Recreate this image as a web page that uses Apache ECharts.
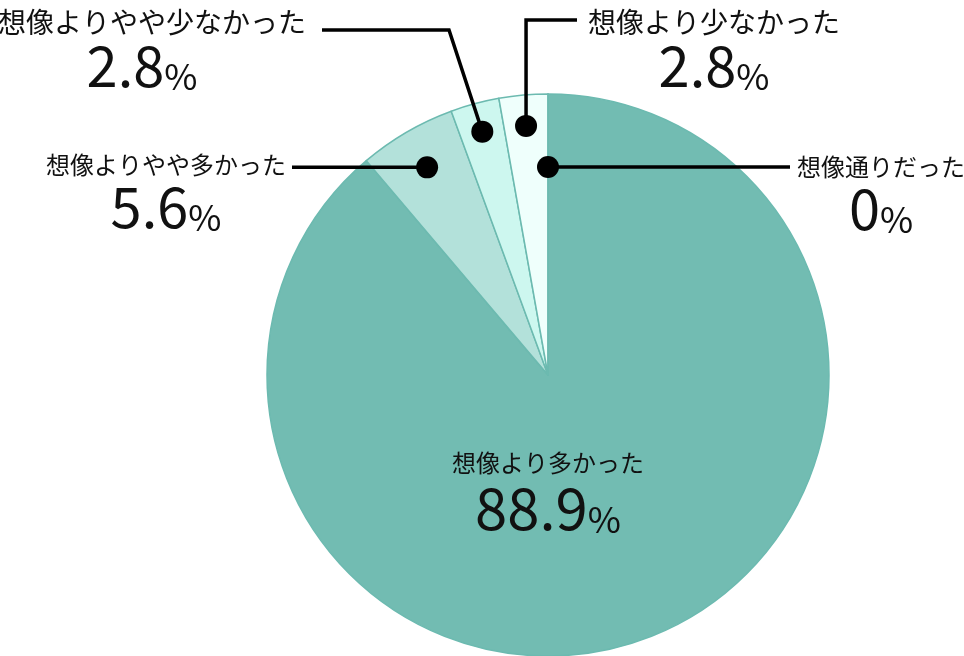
<!DOCTYPE html>
<html>
<head>
<meta charset="utf-8">
<script src="https://cdn.jsdelivr.net/npm/echarts@6/dist/echarts.min.js"></script>
<style>
html,body{margin:0;padding:0;background:#fff;}
#c{width:964px;height:656px;}
</style>
</head>
<body>
<div id="c"></div>
<script>
// ---- data ----
const categories = ['想像より多かった', '想像よりやや多かった', '想像よりやや少なかった', '想像より少なかった', '想像通りだった'];
const values = [88.9, 5.6, 2.8, 2.8, 0];
const valueText = ['88.9', '5.6', '2.8', '2.8', '0'];

// ---- style / layout ----
const colors = ['#72bcb2', '#b3e1da', '#cdf7ef', '#effffc', '#72bcb2'];
const CX = 548, CY = 375, R = 281;
const dotFrac = [null, 0.855, 0.897, 0.89, 0.74];
const nameStyle = ['m', 'm', 'b', 'b', 'm'];
const valStyle = [['bv', 'bp'], ['v', 'p'], ['v', 'p2'], ['v', 'p'], ['v', 'p']];
// [x, top, align]
const labelAnchor = [[548, 448, 'center'], [286, 150, 'right'], [306, 5, 'right'], [588, 5, 'left'], [797, 152, 'left']];

const total = values.reduce((a, b) => a + b, 0);
const mids = [];
let acc = 0;
values.forEach(v => { mids.push(acc + v / 2); acc += v; });
const dots = values.map((v, i) => {
  if (dotFrac[i] == null) return null;
  const th = mids[i] / total * 2 * Math.PI;
  const r = R * dotFrac[i];
  return [CX + r * Math.sin(th), CY - r * Math.cos(th)];
});
function linePoints(i) {
  const d = dots[i];
  if (!d) return null;
  if (i === 1) return [d, [292, d[1]], [292, d[1]]];
  if (i === 2) return [d, [449, 30], [322, 30]];
  if (i === 3) return [d, [d[0], 20], [577, 20]];
  if (i === 4) return [d, [790, d[1]], [790, d[1]]];
  return null;
}

const font = '"Noto Sans CJK JP", "Noto Sans", sans-serif';
const ink = '#111';
const rich = {
  m: { fontSize: 24, lineHeight: 30, align: 'center', color: ink, fontFamily: font },
  b: { fontSize: 28, lineHeight: 34, align: 'center', color: ink, fontFamily: font },
  v: { fontSize: 56, lineHeight: 55, align: 'center', verticalAlign: 'bottom', color: ink, fontFamily: font },
  p: { fontSize: 36, lineHeight: 55, align: 'center', verticalAlign: 'bottom', color: ink, fontFamily: font },
  p2: { fontSize: 36, lineHeight: 55, align: 'center', verticalAlign: 'bottom', color: ink, fontFamily: font, padding: [0, 20, 0, 0] },
  bv: { fontSize: 58, lineHeight: 59, align: 'center', verticalAlign: 'bottom', color: ink, fontFamily: font },
  bp: { fontSize: 36, lineHeight: 59, align: 'center', verticalAlign: 'bottom', color: ink, fontFamily: font }
};

const sliceData = categories.map((name, i) => ({
  name: name, value: values[i], itemStyle: { color: colors[i] }
}));
const labelData = categories.map((name, i) => ({
  name: name,
  value: values[i],
  label: {
    formatter: '{' + nameStyle[i] + '|' + name + '}\n{' + valStyle[i][0] + '|' + valueText[i] + '}{' + valStyle[i][1] + '|%}'
  },
  labelLine: { show: i !== 0 }
}));

const chart = echarts.init(document.getElementById('c'));
chart.setOption({
  backgroundColor: '#ffffff',
  animation: false,
  polar: { center: [CX, CY], radius: R },
  angleAxis: { type: 'value', min: 0, max: total, startAngle: 90, clockwise: true, show: false,
    axisLine: { show: false }, splitLine: { show: false }, axisTick: { show: false }, axisLabel: { show: false } },
  radiusAxis: { type: 'value', min: 0, max: 1, show: false,
    axisLine: { show: false }, splitLine: { show: false }, axisTick: { show: false }, axisLabel: { show: false } },
  series: [
    {
      type: 'pie',
      center: [CX, CY],
      radius: R,
      startAngle: 90,
      clockwise: true,
      itemStyle: { borderColor: '#6cbab0', borderWidth: 1.5 },
      label: { show: false },
      labelLine: { show: false },
      emphasis: { disabled: true },
      silent: true,
      data: sliceData,
      z: 1
    },
    {
      type: 'pie',
      center: [CX, CY],
      radius: R,
      startAngle: 90,
      clockwise: true,
      avoidLabelOverlap: false,
      itemStyle: { color: 'rgba(0,0,0,0)', borderWidth: 0 },
      label: { show: true, position: 'outside', rich: rich, color: ink, fontFamily: font },
      labelLine: { show: true, lineStyle: { color: '#000', width: 3.5 } },
      emphasis: { disabled: true },
      silent: true,
      labelLayout: function (params) {
        const i = params.dataIndex;
        const a = labelAnchor[i];
        const o = { x: a[0], y: a[1], align: a[2], verticalAlign: 'top' };
        const lp = linePoints(i);
        if (lp) o.labelLinePoints = lp;
        return o;
      },
      data: labelData,
      z: 3
    },
    {
      type: 'scatter',
      coordinateSystem: 'polar',
      symbol: 'circle',
      symbolSize: 22,
      itemStyle: { color: '#000', opacity: 1 },
      silent: true,
      z: 10,
      data: values.map((v, i) => dotFrac[i] == null ? null : [dotFrac[i], mids[i]]).filter(d => d)
    }
  ]
});
</script>
</body>
</html>
